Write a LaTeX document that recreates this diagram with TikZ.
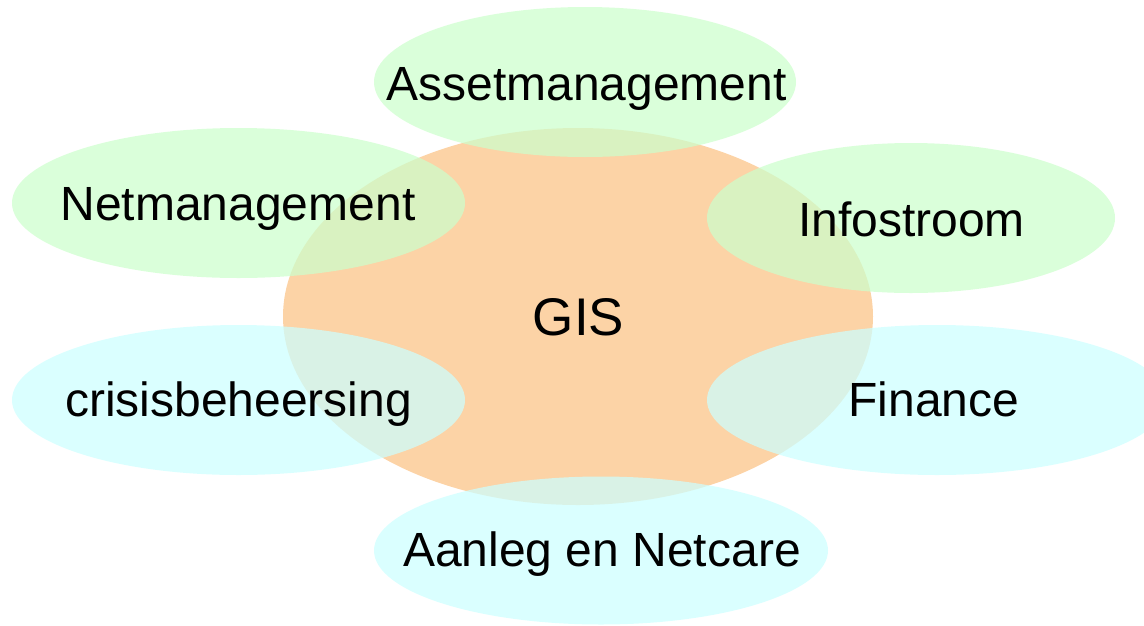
\documentclass[tikz,border=0pt]{standalone}
\usepackage{fontspec}
\setmainfont{Liberation Sans}
\definecolor{gisorange}{RGB}{252,211,166}
\definecolor{topicgreen}{RGB}{204,255,204}
\definecolor{topiccyan}{RGB}{204,255,255}
\tikzset{
  core/.style={fill=gisorange},
  greenblob/.style={fill=topicgreen, fill opacity=0.72},
  cyanblob/.style={fill=topiccyan, fill opacity=0.72},
  label/.style={anchor=base, inner sep=0pt, font=\fontsize{48pt}{58pt}\selectfont},
  biglabel/.style={anchor=base, inner sep=0pt, font=\fontsize{53pt}{63pt}\selectfont}
}
\begin{document}
\begin{tikzpicture}[x=1pt, y=-1pt]
  \useasboundingbox (0,0) rectangle (1144,625);
  % ellipse centres
  \coordinate (cGIS)   at (578,316.5);
  \coordinate (cAsset) at (585,82);
  \coordinate (cNet)   at (238.5,203);
  \coordinate (cInfo)  at (911,218);
  \coordinate (cCris)  at (238.5,400);
  \coordinate (cFin)   at (937,400);
  \coordinate (cAan)   at (601,550.5);
  % central field
  \fill[core] (cGIS) ellipse [x radius=295pt, y radius=188.5pt];
  % surrounding fields
  \fill[greenblob] (cAsset) ellipse [x radius=211pt, y radius=75pt];
  \fill[greenblob] (cNet)   ellipse [x radius=226.5pt, y radius=75pt];
  \fill[greenblob] (cInfo)  ellipse [x radius=204pt, y radius=75pt];
  \fill[cyanblob]  (cCris)  ellipse [x radius=226.5pt, y radius=75pt];
  \fill[cyanblob]  (cFin)   ellipse [x radius=230pt, y radius=75pt];
  \fill[cyanblob]  (cAan)   ellipse [x radius=227pt, y radius=74pt];
  % labels
  \node[biglabel] (tGIS)   at (578.5,335) {GIS};
  \node[label]    (tAsset) at (586.5,100) {Assetmanagement};
  \node[label]    (tNet)   at (238,220) {Netmanagement};
  \node[label]    (tInfo)  at (911.5,236) {Infostroom};
  \node[label]    (tCris)  at (238.5,416) {crisisbeheersing};
  \node[label]    (tFin)   at (934,416) {Finance};
  \node[label]    (tAan)   at (602,566) {Aanleg en Netcare};
\end{tikzpicture}
\end{document}
